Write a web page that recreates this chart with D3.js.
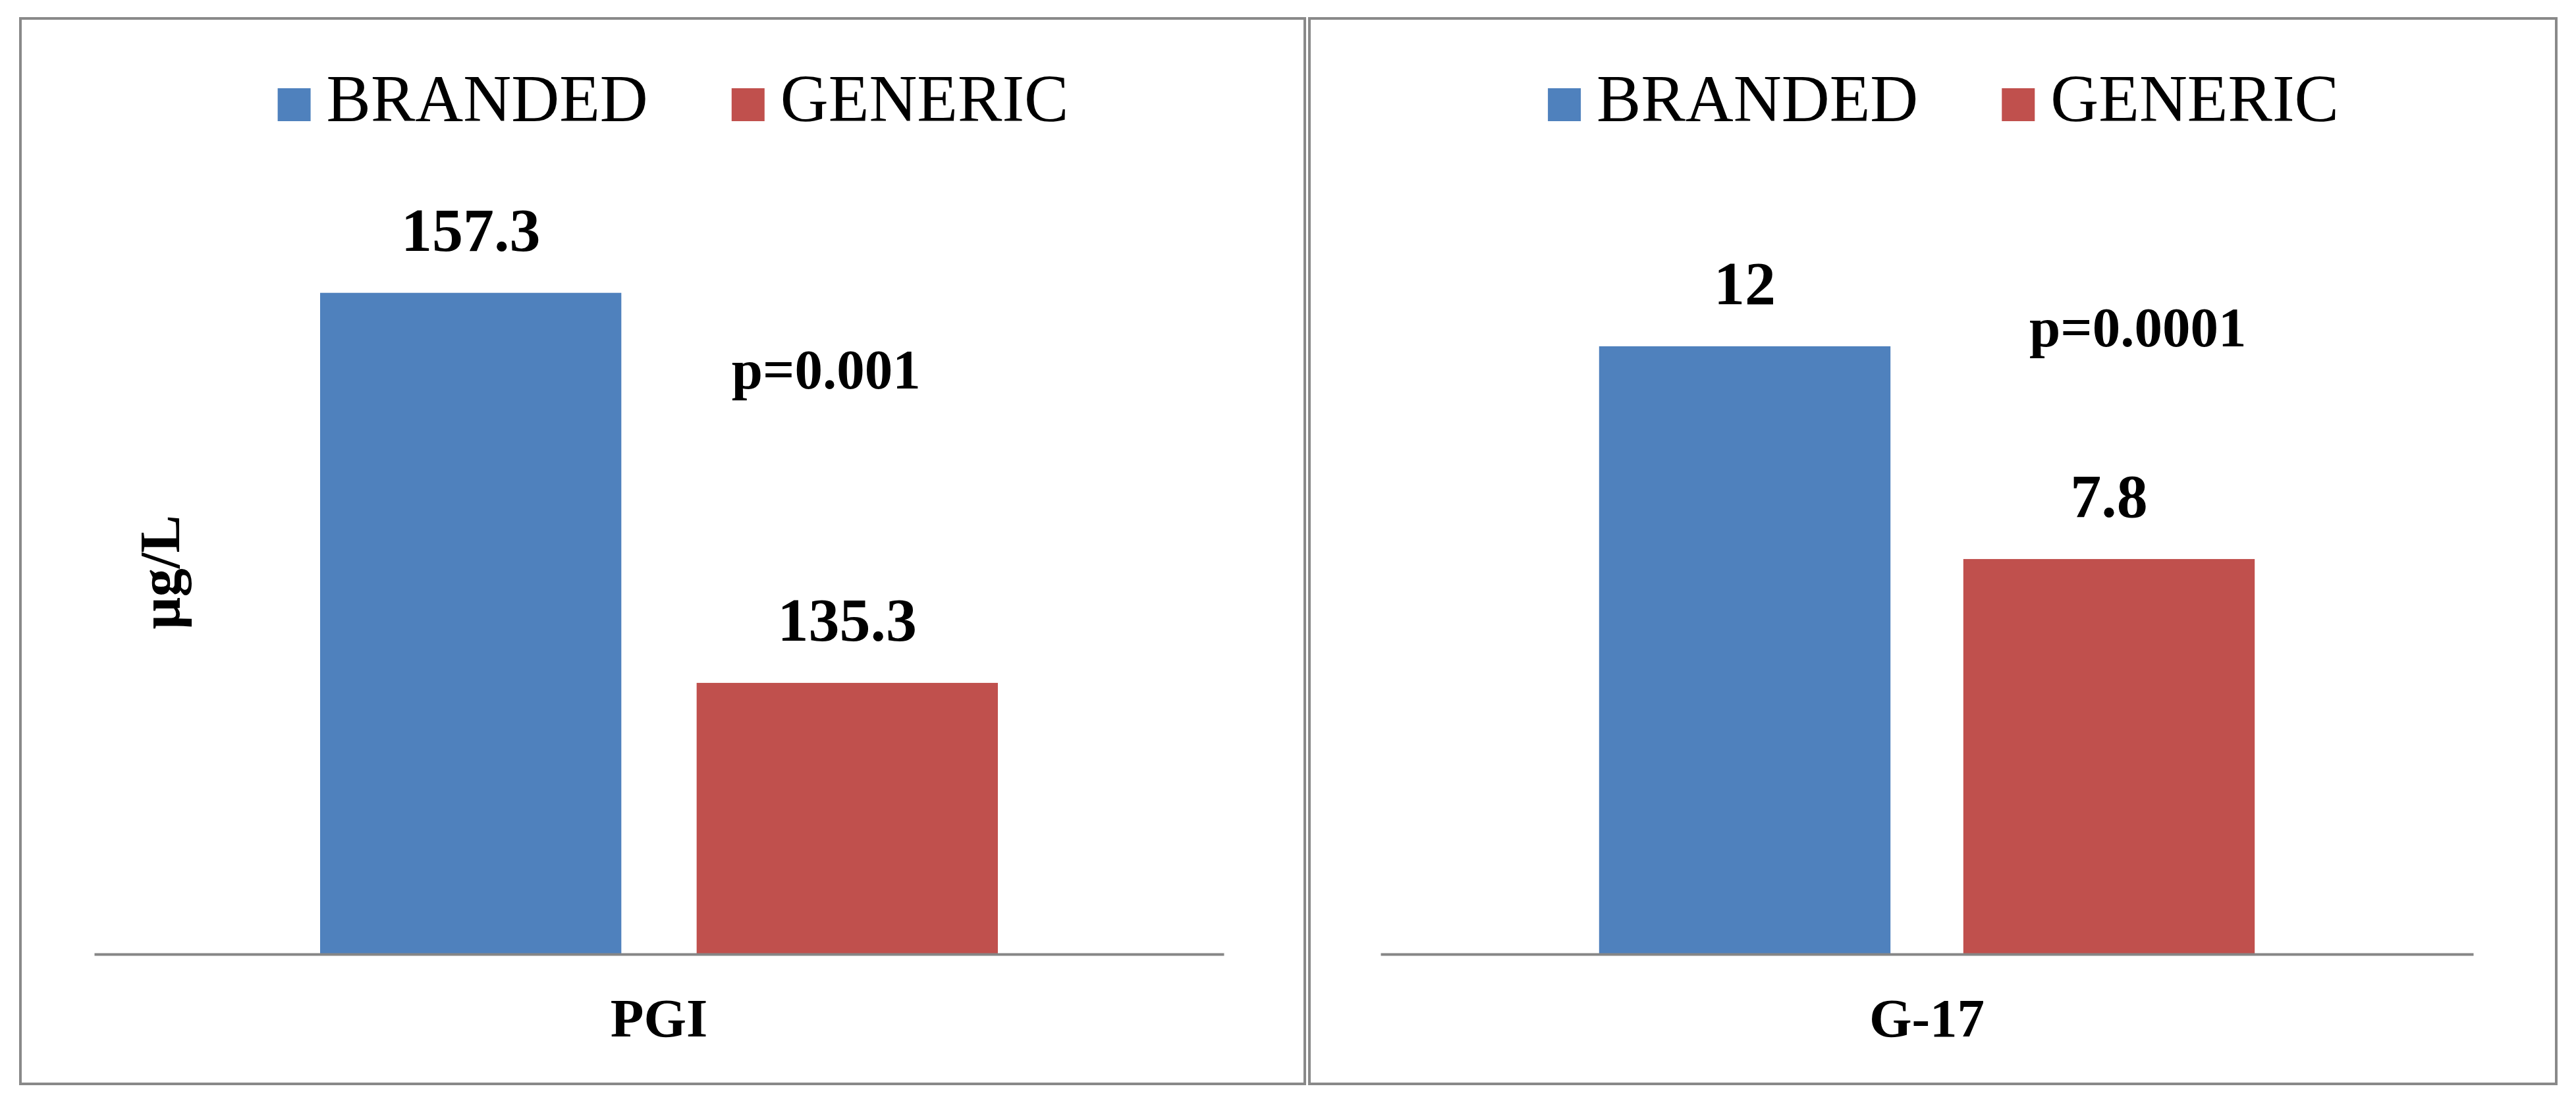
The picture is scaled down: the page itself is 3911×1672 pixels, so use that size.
<!DOCTYPE html>
<html>
<head>
<meta charset="utf-8">
<script src="https://cdn.jsdelivr.net/npm/d3@7"></script>
<style>
  body { margin: 0; background: #fff; }
  text { font-family: "Liberation Serif", "Times New Roman", serif; fill: #000; }
</style>
</head>
<body>
<script>
var width = 3911,
    height = 1672;

// data
var categories = ["PGI", "G-17"];
var series = ["BRANDED", "GENERIC"];
var branded = [157.3, 12];
var generic = [135.3, 7.8];
var yDomains = [[120, 160], [0, 14]];
var pLabels = ["p=0.001", "p=0.0001"];
var pValueY = [151.9, 12.0];   // where the p text sits, in axis units
var yTitles = ["\u00b5g/L", ""];

var colors = ["#4f81bd", "#c0504d"];

// layout of the two panels
var layout = [
    { box: [31, 28, 1981, 1646], x: [143, 1858], pX: 0.648, yTitle: [272, 869] },
    { box: [1988, 28, 3881, 1646], x: [2096, 3755], pX: 0.693, yTitle: null }
];
var plotTop = 372,
    plotBottom = 1449;

var svg = d3.select("body").append("svg")
    .attr("width", width)
    .attr("height", height);

svg.append("rect")
    .attr("width", width)
    .attr("height", height)
    .attr("fill", "#fff");

categories.forEach(function (cat, i) {
    var L = layout[i];
    var g = svg.append("g");
    var values = [branded[i], generic[i]];

    // panel frame
    g.append("rect")
        .attr("x", L.box[0])
        .attr("y", L.box[1])
        .attr("width", L.box[2] - L.box[0])
        .attr("height", L.box[3] - L.box[1])
        .attr("fill", "none")
        .attr("stroke", "#898989")
        .attr("stroke-width", 4);

    var x0 = d3.scaleBand()
        .domain([cat])
        .range(L.x)
        .paddingOuter(1 / 3)
        .paddingInner(0);

    var x1 = d3.scaleBand()
        .domain(series)
        .range([0, x0.bandwidth()])
        .paddingInner(0.2)
        .paddingOuter(0);

    var y = d3.scaleLinear()
        .domain(yDomains[i])
        .range([plotBottom, plotTop]);

    // bars
    g.selectAll(".bar")
        .data(values)
        .enter().append("rect")
        .attr("class", "bar")
        .attr("x", function (d, j) { return x0(cat) + x1(series[j]); })
        .attr("y", function (d) { return y(d); })
        .attr("width", x1.bandwidth())
        .attr("height", function (d) { return plotBottom - y(d); })
        .attr("fill", function (d, j) { return colors[j]; });

    // value labels
    g.selectAll(".val")
        .data(values)
        .enter().append("text")
        .attr("class", "val")
        .attr("x", function (d, j) { return x0(cat) + x1(series[j]) + x1.bandwidth() / 2; })
        .attr("y", function (d) { return y(d) - 64; })
        .attr("text-anchor", "middle")
        .style("font-size", "94px")
        .style("font-weight", "bold")
        .text(function (d) { return d; });

    // category axis
    var xAxis = g.append("g")
        .attr("transform", "translate(0," + plotBottom + ")")
        .call(d3.axisBottom(x0).tickSize(0).tickPadding(0));
    xAxis.select(".domain")
        .attr("stroke", "#868686")
        .attr("stroke-width", 4);
    xAxis.selectAll(".tick text")
        .attr("y", 125)
        .attr("dy", 0)
        .attr("fill", "#000")
        .style("font-family", '"Liberation Serif", "Times New Roman", serif')
        .style("font-size", "83px")
        .style("font-weight", "bold");

    // p value
    g.append("text")
        .attr("x", L.x[0] + (L.x[1] - L.x[0]) * L.pX)
        .attr("y", y(pValueY[i]))
        .attr("text-anchor", "middle")
        .style("font-size", "85px")
        .style("font-weight", "bold")
        .text(pLabels[i]);

    // y title
    if (L.yTitle && yTitles[i]) {
        g.append("text")
            .attr("transform", "translate(" + L.yTitle[0] + "," + L.yTitle[1] + ") rotate(-90)")
            .attr("text-anchor", "middle")
            .style("font-size", "86px")
            .style("font-weight", "bold")
            .text(yTitles[i]);
    }

    // legend
    var leg = g.append("g");
    var cx = 0;
    series.forEach(function (s, j) {
        leg.append("rect")
            .attr("x", cx)
            .attr("y", 134)
            .attr("width", 50)
            .attr("height", 50)
            .attr("fill", colors[j]);
        var t = leg.append("text")
            .attr("x", cx + 74)
            .attr("y", 184)
            .style("font-size", "101px")
            .text(s);
        cx += 74 + t.node().getComputedTextLength() + 127;
    });
    var legW = cx - 127;
    var mid = (L.box[0] + L.box[2]) / 2 + 16;
    leg.attr("transform", "translate(" + (mid - legW / 2) + ",0)");
});
</script>
</body>
</html>
